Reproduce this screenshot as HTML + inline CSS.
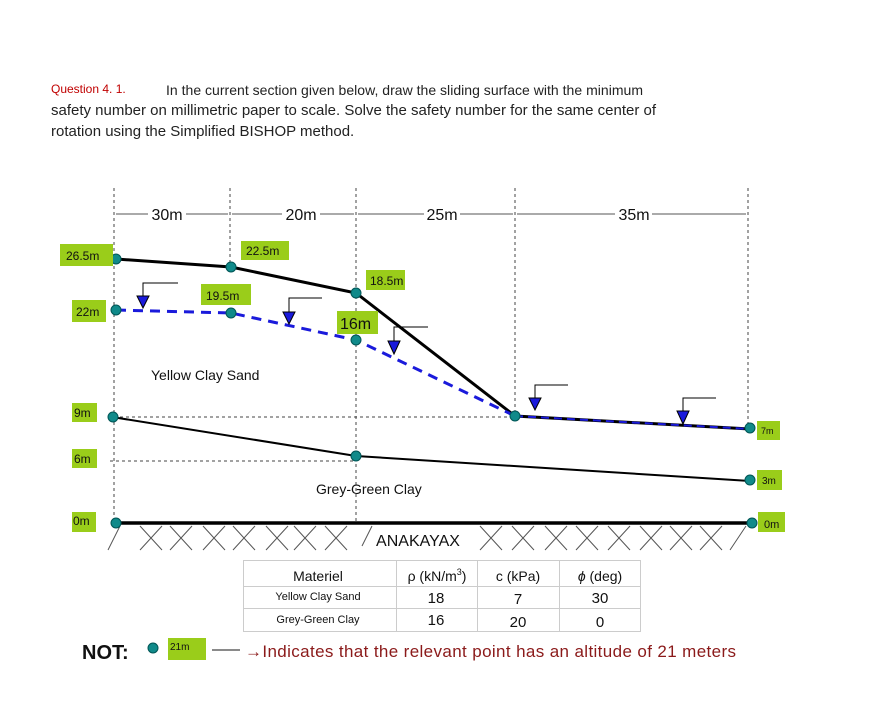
<!DOCTYPE html>
<html><head><meta charset="utf-8"><style>
body{margin:0;background:#fff;width:892px;height:702px;overflow:hidden;font-family:"Liberation Sans",Arial,sans-serif}
</style></head><body>
<svg width="892" height="702" xmlns="http://www.w3.org/2000/svg" font-family="Liberation Sans, Arial, sans-serif">
<text x="51" y="93" font-size="12" fill="#c00000">Question 4. 1.</text>
<text x="166" y="95" font-size="14" fill="#222" textLength="477">In the current section given below, draw the sliding surface with the minimum</text>
<text x="51" y="115" font-size="15" fill="#222" textLength="605">safety number on millimetric paper to scale. Solve the safety number for the same center of</text>
<text x="51" y="136" font-size="15" fill="#222">rotation using the Simplified BISHOP method.</text>

<g stroke="#444" stroke-width="1" stroke-dasharray="3,3">
<line x1="114" y1="188" x2="114" y2="522"/><line x1="230" y1="188" x2="230" y2="266"/>
<line x1="356" y1="188" x2="356" y2="522"/><line x1="515" y1="188" x2="515" y2="416"/>
<line x1="748" y1="188" x2="748" y2="428"/>
<line x1="120" y1="417" x2="515" y2="417"/><line x1="110" y1="461" x2="356" y2="461"/>
</g>
<g stroke="#555" stroke-width="1">
<line x1="116" y1="214" x2="148" y2="214"/><line x1="186" y1="214" x2="228" y2="214"/>
<line x1="232" y1="214" x2="282" y2="214"/><line x1="320" y1="214" x2="354" y2="214"/>
<line x1="358" y1="214" x2="424" y2="214"/><line x1="460" y1="214" x2="513" y2="214"/>
<line x1="517" y1="214" x2="615" y2="214"/><line x1="652" y1="214" x2="746" y2="214"/>
</g>
<g font-size="16" fill="#111" text-anchor="middle">
<text x="167" y="220">30m</text><text x="301" y="220">20m</text><text x="442" y="220">25m</text><text x="634" y="220">35m</text>
</g>

<polyline points="116,259 231,267 356,293 515,416 750,429" fill="none" stroke="#000" stroke-width="3"/>
<polyline points="116,310 231,313 356,340 515,416" fill="none" stroke="#1a1adb" stroke-width="3" stroke-dasharray="10,7"/>
<line x1="515" y1="416" x2="750" y2="429" stroke="#1a1adb" stroke-width="2" stroke-dasharray="8,5"/>
<polyline points="112,417 356,456 750,481" fill="none" stroke="#000" stroke-width="2"/>
<line x1="116" y1="523" x2="752" y2="523" stroke="#000" stroke-width="3.5"/>
<g stroke="#555" stroke-width="1">
<path d="M120 526 L108 550"/>
<path d="M140 526 L162 550 M162 526 L140 550 M170 526 L192 550 M192 526 L170 550 M203 526 L225 550 M225 526 L203 550 M233 526 L255 550 M255 526 L233 550 M266 526 L288 550 M288 526 L266 550 M294 526 L316 550 M316 526 L294 550 M325 526 L347 550 M347 526 L325 550 M372 526 L362 546"/>
<path d="M480 526 L502 550 M502 526 L480 550 M512 526 L534 550 M534 526 L512 550 M545 526 L567 550 M567 526 L545 550 M576 526 L598 550 M598 526 L576 550 M608 526 L630 550 M630 526 L608 550 M640 526 L662 550 M662 526 L640 550 M670 526 L692 550 M692 526 L670 550 M700 526 L722 550 M722 526 L700 550 M730 550 L746 526"/>
</g>
<text x="418" y="546" font-size="16" text-anchor="middle" fill="#111">ANAKAYAX</text>

<g fill="#1a1adb" stroke="#000" stroke-width="1">
<g><polyline points="178,283 143,283 143,297" fill="none"/><polygon points="137,296 149,296 143,308"/></g>
<g><polyline points="322,298 289,298 289,313" fill="none"/><polygon points="283,312 295,312 289,324"/></g>
<g><polyline points="428,327 394,327 394,342" fill="none"/><polygon points="388,341 400,341 394,354"/></g>
<g><polyline points="568,385 535,385 535,399" fill="none"/><polygon points="529,398 541,398 535,410"/></g>
<g><polyline points="716,398 683,398 683,412" fill="none"/><polygon points="677,411 689,411 683,424"/></g>
</g>

<g fill="#108a8a" stroke="#055" stroke-width="1">
<circle cx="116" cy="259" r="5"/><circle cx="231" cy="267" r="5"/><circle cx="356" cy="293" r="5"/>
<circle cx="116" cy="310" r="5"/><circle cx="231" cy="313" r="5"/><circle cx="356" cy="340" r="5"/>
<circle cx="515" cy="416" r="5"/><circle cx="750" cy="428" r="5"/><circle cx="113" cy="417" r="5"/>
<circle cx="356" cy="456" r="5"/><circle cx="750" cy="480" r="5"/><circle cx="116" cy="523" r="5"/>
<circle cx="752" cy="523" r="5"/><circle cx="153" cy="648" r="5"/>
</g>

<g fill="#9acd1a">
<rect x="60" y="244" width="53" height="22"/><rect x="241" y="241" width="48" height="19"/>
<rect x="366" y="270" width="39" height="20"/><rect x="201" y="284" width="50" height="21"/>
<rect x="72" y="300" width="34" height="22"/><rect x="337" y="311" width="41" height="23"/>
<rect x="72" y="403" width="25" height="19"/><rect x="72" y="449" width="25" height="19"/>
<rect x="72" y="512" width="24" height="20"/><rect x="757" y="421" width="23" height="19"/>
<rect x="757" y="470" width="25" height="20"/><rect x="758" y="512" width="27" height="20"/>
<rect x="168" y="638" width="38" height="22"/>
</g>
<g font-size="12" fill="#111">
<text x="66" y="260">26.5m</text><text x="246" y="255">22.5m</text>
<text x="370" y="285">18.5m</text><text x="206" y="300">19.5m</text><text x="76" y="316">22m</text>
<text x="340" y="329" font-size="16">16m</text><text x="74" y="417">9m</text><text x="74" y="463">6m</text>
<text x="73" y="525">0m</text><text x="761" y="434" font-size="9">7m</text><text x="762" y="484" font-size="10">3m</text>
<text x="764" y="528" font-size="11">0m</text><text x="170" y="650" font-size="10">21m</text>
</g>
<text x="151" y="380" font-size="14" fill="#111">Yellow Clay Sand</text>
<text x="316" y="494" font-size="14" fill="#111">Grey-Green Clay</text>

<g stroke="#ccc" stroke-width="1" fill="none">
<rect x="243.5" y="560.5" width="397" height="71"/>
<line x1="243" y1="586.5" x2="641" y2="586.5"/><line x1="243" y1="608.5" x2="641" y2="608.5"/>
<line x1="396.5" y1="560" x2="396.5" y2="632"/><line x1="477.5" y1="560" x2="477.5" y2="632"/><line x1="559.5" y1="560" x2="559.5" y2="632"/>
</g>
<g text-anchor="middle" fill="#111">
<text x="318" y="581" font-size="14">Materiel</text>
<text x="437" y="581" font-size="14">ρ (kN/m<tspan font-size="9" dy="-6">3</tspan><tspan dy="6">)</tspan></text>
<text x="518" y="581" font-size="14">c (kPa)</text>
<text x="600" y="581" font-size="14"><tspan font-style="italic">ϕ</tspan> (deg)</text>
<text x="318" y="600" font-size="11">Yellow Clay Sand</text><text x="318" y="623" font-size="11">Grey-Green Clay</text>
<text x="436" y="603" font-size="15">18</text><text x="518" y="604" font-size="15">7</text><text x="600" y="603" font-size="15">30</text>
<text x="436" y="625" font-size="15">16</text><text x="518" y="627" font-size="15">20</text><text x="600" y="627" font-size="15">0</text>
</g>
<text x="82" y="659" font-size="20" font-weight="bold" fill="#111">NOT:</text>
<line x1="212" y1="650" x2="240" y2="650" stroke="#444" stroke-width="1.2"/>
<text x="245" y="657" font-size="17" fill="#8b1a1a" textLength="491">→Indicates that the relevant point has an altitude of 21 meters</text>
</svg>
</body></html>
